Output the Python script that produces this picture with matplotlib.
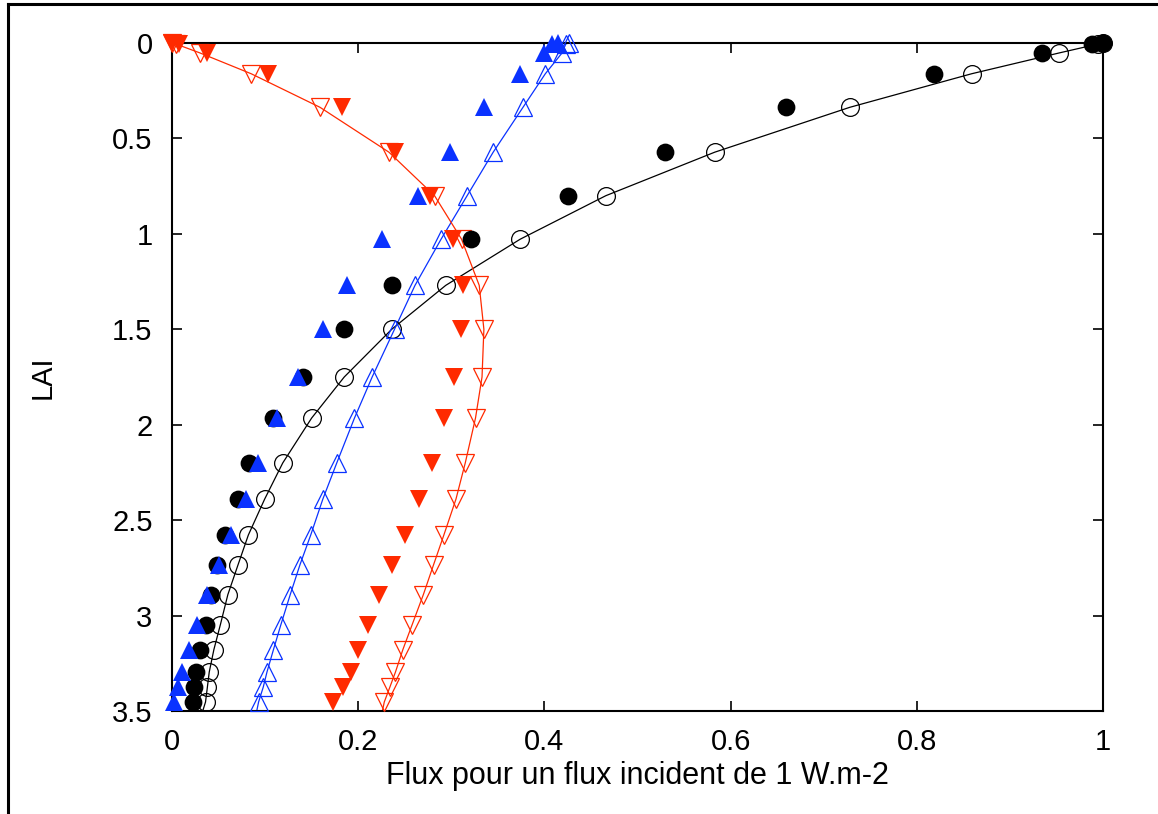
import matplotlib
matplotlib.use("Agg")
import matplotlib.pyplot as plt
from matplotlib.lines import Line2D

plt.rcParams['font.family'] = ['Liberation Sans', 'DejaVu Sans']

# LAI levels (depth in canopy)
lai = [0.0, 0.005, 0.052, 0.161, 0.337, 0.572, 0.80, 1.028, 1.27, 1.50, 1.75,
       1.965, 2.20, 2.39, 2.578, 2.733, 2.89, 3.047, 3.178, 3.296, 3.375, 3.453]

black_open = [1.0, 0.995, 0.953, 0.859, 0.728, 0.583, 0.466, 0.374, 0.294, 0.236, 0.185,
              0.150, 0.119, 0.0995, 0.082, 0.071, 0.060, 0.052, 0.045, 0.040, 0.038, 0.036]
black_filled = [1.0, 0.988, 0.934, 0.818, 0.660, 0.530, 0.425, 0.321, 0.236, 0.185, 0.141,
                0.108, 0.083, 0.071, 0.057, 0.048, 0.042, 0.037, 0.030, 0.026, 0.024, 0.0225]
blue_open = [0.426, 0.423, 0.419, 0.401, 0.377, 0.345, 0.317, 0.289, 0.261, 0.239, 0.215,
             0.196, 0.177, 0.162, 0.149, 0.1375, 0.127, 0.117, 0.109, 0.102, 0.098, 0.093]
blue_filled = [0.415, 0.408, 0.400, 0.374, 0.335, 0.299, 0.264, 0.226, 0.188, 0.162, 0.135,
               0.113, 0.092, 0.079, 0.063, 0.050, 0.038, 0.027, 0.018, 0.011, 0.0065, 0.002]
red_open = [0.0, 0.004, 0.030, 0.085, 0.159, 0.233, 0.282, 0.311, 0.330, 0.335, 0.333,
            0.326, 0.315, 0.305, 0.292, 0.281, 0.270, 0.258, 0.248, 0.240, 0.234, 0.228]
red_filled = [0.0, 0.007, 0.038, 0.103, 0.183, 0.240, 0.277, 0.302, 0.313, 0.310, 0.303,
              0.292, 0.279, 0.265, 0.250, 0.236, 0.222, 0.210, 0.200, 0.192, 0.184, 0.173]

# model lines continue to the bottom of the canopy
lai_end = 3.5
black_end = 0.033
blue_end = 0.091
red_end = 0.226

x_ticks = [0, 0.2, 0.4, 0.6, 0.8, 1]
x_tick_labels = ['0', '0.2', '0.4', '0.6', '0.8', '1']
y_ticks = [0, 0.5, 1, 1.5, 2, 2.5, 3, 3.5]
y_tick_labels = ['0', '0.5', '1', '1.5', '2', '2.5', '3', '3.5']

BLACK = '#000000'
BLUE = '#0a32ff'
RED = '#ff2a00'

fig = plt.figure(figsize=(11.58, 8.14), dpi=100)
ax = fig.add_axes([172 / 1158, 1 - 711 / 814, (1103 - 172) / 1158, (711 - 43) / 814])

ms_c = 12.8
ms_t = 12.5
lw = 0.9

# model lines
ax.plot(black_open + [black_end], lai + [lai_end], color=BLACK, lw=lw, zorder=2, clip_on=False)
ax.plot(blue_open + [blue_end], lai + [lai_end], color=BLUE, lw=lw, zorder=2, clip_on=False)
ax.plot(red_open + [red_end], lai + [lai_end], color=RED, lw=lw, zorder=2, clip_on=False)

# open markers
ax.plot(black_open, lai, ls='none', marker='o', ms=ms_c, mfc='none', mec=BLACK, mew=lw,
        zorder=3, clip_on=False)
ax.plot(blue_open, lai, ls='none', marker='^', ms=ms_t, mfc='none', mec=BLUE, mew=lw,
        zorder=3, clip_on=False)
ax.plot(red_open, lai, ls='none', marker='v', ms=ms_t, mfc='none', mec=RED, mew=lw,
        zorder=3, clip_on=False)

# filled markers
ax.plot(black_filled, lai, ls='none', marker='o', ms=ms_c, mfc=BLACK, mec=BLACK, mew=0,
        zorder=4, clip_on=False)
ax.plot(blue_filled, lai, ls='none', marker='^', ms=ms_t, mfc=BLUE, mec=BLUE, mew=0,
        zorder=5, clip_on=False)
ax.plot(red_filled, lai, ls='none', marker='v', ms=ms_t, mfc=RED, mec=RED, mew=0,
        zorder=6, clip_on=False)

ax.set_xlim(0, 1)
ax.set_ylim(3.5, 0)
ax.set_xticks(x_ticks)
ax.set_xticklabels(x_tick_labels)
ax.set_yticks(y_ticks)
ax.set_yticklabels(y_tick_labels)
ax.tick_params(direction='in', length=7, width=1.2, labelsize=21, top=True, right=True)
ax.tick_params(axis='x', pad=12)
ax.tick_params(axis='y', pad=14)
for s in ax.spines.values():
    s.set_linewidth(1.5)

ax.set_xlabel('Flux pour un flux incident de 1 W.m-2', fontsize=22, labelpad=4)
ax.set_ylabel('LAI', fontsize=21, labelpad=40)

# outer frame (partial border)
fig.add_artist(Line2D([8 / 1158, 1.0], [1 - 3.5 / 814, 1 - 3.5 / 814],
                      transform=fig.transFigure, color='black', lw=2.2))
fig.add_artist(Line2D([8 / 1158, 8 / 1158], [0.0, 1 - 3.5 / 814],
                      transform=fig.transFigure, color='black', lw=2.2))

fig.savefig('out.png', dpi=100)
